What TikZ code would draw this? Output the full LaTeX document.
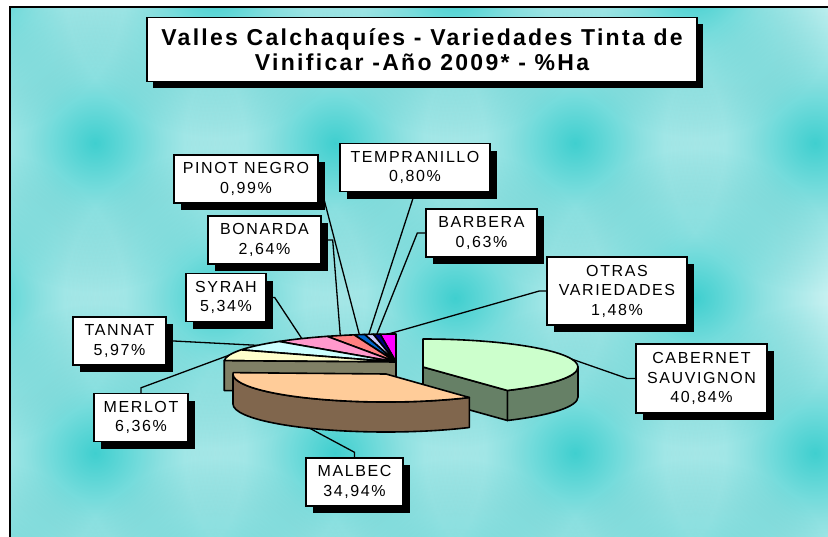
\documentclass[tikz,border=0pt]{standalone}
\usepackage{fontspec}
\setmainfont{Liberation Sans}
\newfontfamily\lblfont[LetterSpace=10]{Liberation Sans}
\newfontfamily\ttlfont[LetterSpace=10]{Liberation Sans}
\usetikzlibrary{shadows,calc}
\definecolor{spotD}{HTML}{4CD8D8}
\definecolor{spotM}{HTML}{A7EAEA}
\definecolor{spotL}{HTML}{D6F5F5}
\definecolor{tCab}{HTML}{CCFFCC}\definecolor{sCab}{HTML}{668066}
\definecolor{tMal}{HTML}{FFCC99}\definecolor{sMal}{HTML}{80664D}
\definecolor{tMer}{HTML}{FFFFCC}\definecolor{sMer}{HTML}{808066}
\definecolor{tTan}{HTML}{CCFFFF}\definecolor{tSyr}{HTML}{FF99CC}
\definecolor{tBon}{HTML}{FF8080}\definecolor{tPin}{HTML}{0066CC}
\definecolor{tTem}{HTML}{CCCCFF}\definecolor{tBar}{HTML}{000080}
\definecolor{tOtr}{HTML}{FF00FF}
\pgfdeclareradialshading{spot}{\pgfpoint{0bp}{0bp}}{color(0bp)=(spotD); color(11bp)=(spotM); color(25bp)=(white); color(50bp)=(white)}
\pgfdeclarelayer{back}
\pgfdeclarelayer{leaders}
\pgfsetlayers{back,leaders,main}
\tikzstyle{tag}   =[draw, fill=white, line width=1.4pt, align=center, inner sep=0pt,
                    font={\lblfont\fontsize{16}{19.5}\selectfont}, minimum height=48pt,
                    general shadow={fill=black, shadow xshift=7pt, shadow yshift=-7pt}]
\tikzstyle{leader}=[line width=1.3pt]
\tikzstyle{pie}   =[draw, line width=1.6pt, line join=round]
\tikzstyle{glow}  =[shading=spot, blend mode=multiply]

\begin{document}
\begin{tikzpicture}[x=1pt, y=1pt]
    \useasboundingbox (0,0) rectangle (828,-536);
    % background
    \begin{pgfonlayer}{back}
    \fill[spotL] (10,-7) rectangle (840,-550);
    \begin{scope}
        \clip (10,-7) rectangle (840,-550);
        \foreach \x in {95,335,575,815} \foreach \y in {-143,-453}
            \shade[glow] (\x,\y) circle (150);
        \foreach \x in {-25,215,455,695} \foreach \y in {12,-298,-608}
            \shade[glow] (\x,\y) circle (150);
    \end{scope}
    \draw[line width=2pt] (10,-7) rectangle (840,-550);
    \end{pgfonlayer}

    \node[draw, fill=white, line width=1.4pt, align=center, minimum width=550pt,
        minimum height=64pt, font={\ttlfont\bfseries\fontsize{23}{25}\selectfont},
        general shadow={fill=black, shadow xshift=6pt, shadow yshift=-6pt}]
        (title) at (422,-49.5) {Valles Calchaquíes - Variedades Tinta de\\Vinificar -Año 2009* - \%Ha};

    % pie
    \coordinate (cS) at (396,-362);
    \coordinate (cC) at (423,-367);
    \coordinate (cM) at (386,-374);
    \foreach \a/\b/\col in {90/95.3/tOtr, 95.3/97.6/tBar, 97.6/100.5/tTem, 100.5/104.1/tPin,
        104.1/113.6/tBon, 113.6/132.8/tSyr, 132.8/154.3/tTan, 154.3/177.2/tMer}
        \filldraw[pie, fill=\col] (cS) -- ++(\a:172 and 28)
            arc[start angle=\a, end angle=\b, x radius=172, y radius=28] -- cycle;
    \filldraw[pie, fill=sMer] (cS) -- ++(177.2:172 and 28) -- ++(0,-30) -- ([yshift=-30pt]cS) -- cycle;
    % cabernet
    \filldraw[pie, fill=sCab] ([shift={(0:155 and 28)}]cC)
        arc[start angle=0, end angle=-57, x radius=155, y radius=28] -- ++(0,-30)
        arc[start angle=-57, end angle=0, x radius=155, y radius=28] -- cycle;
    \filldraw[pie, fill=sCab] (cC) -- ++(-57:155 and 28) -- ++(0,-30) -- ([yshift=-30pt]cC) -- cycle;
    \filldraw[pie, fill=tCab] (cC) -- ++(90:155 and 28)
        arc[start angle=90, end angle=-57, x radius=155, y radius=28] -- cycle;
    % malbec
    \filldraw[pie, fill=sMal] ([shift={(-57:153 and 28)}]cM)
        arc[start angle=-57, end angle=-180, x radius=153, y radius=28] -- ++(0,-30)
        arc[start angle=-180, end angle=-57, x radius=153, y radius=28] -- cycle;
    \filldraw[pie, fill=tMal] (cM) -- ++(-57:153 and 28)
        arc[start angle=-57, end angle=-182.8, x radius=153, y radius=28] -- cycle;

    \coordinate (pOtr) at ([shift={(92.6:172 and 28)}]cS);
    \coordinate (pBar) at ([shift={(96.4:172 and 28)}]cS);
    \coordinate (pTem) at ([shift={(99.1:172 and 28)}]cS);
    \coordinate (pPin) at ([shift={(102.3:172 and 28)}]cS);
    \coordinate (pBon) at ([shift={(108.9:172 and 28)}]cS);
    \coordinate (pSyr) at ([shift={(123.2:172 and 28)}]cS);
    \coordinate (pTan) at ([shift={(143.5:172 and 28)}]cS);
    \coordinate (pMer) at ([shift={(165.7:172 and 28)}]cS);
    \coordinate (pCab) at ([shift={(16.5:155 and 28)}]cC);
    \coordinate (pMal) at ([shift={(-119.9:153 and 28)}, yshift=-30pt]cM);

    % labels
    \node[tag, minimum width=144pt] (lPin) at (246,-179) {PINOT NEGRO\\0,99\%};
    \node[tag, minimum width=150pt] (lTem) at (415,-167.5) {TEMPRANILLO\\0,80\%};
    \node[tag, minimum width=113pt] (lBon) at (264.5,-240) {BONARDA\\2,64\%};
    \node[tag, minimum width=111pt] (lBar) at (481.5,-233) {BARBERA\\0,63\%};
    \node[tag, minimum width=80pt] (lSyr) at (226,-297.5) {SYRAH\\5,34\%};
    \node[tag, minimum width=140pt, minimum height=68pt] (lOtr) at (617,-291) {OTRAS\\VARIEDADES\\1,48\%};
    \node[tag, minimum width=131pt, minimum height=69pt] (lCab) at (701.5,-378.5) {CABERNET\\SAUVIGNON\\40,84\%};
    \node[tag, minimum width=93pt] (lTan) at (119.5,-341) {TANNAT\\5,97\%};
    \node[tag, minimum width=94pt] (lMer) at (141,-417.5) {MERLOT\\6,36\%};
    \node[tag, minimum width=97pt] (lMal) at (354.5,-482) {MALBEC\\34,94\%};

    \begin{pgfonlayer}{leaders}
    \draw[leader] (lPin.east) -- (pPin);
    \draw[leader] (lTem.south) -- (pTem);
    \draw[leader] (lBon.east) -- ++(11,0) -- (pBon);
    \draw[leader] (lBar.west) -- ++(-8,0) -- (pBar);
    \draw[leader] (lOtr.west) -- ++(-7,0) -- (pOtr);
    \draw[leader] (lSyr.east) -- ++(8,0) -- (pSyr);
    \draw[leader] (lTan.east) -- ++(7,0) -- (pTan);
    \draw[leader] (lMer.north) -- ++(0,5) -- (pMer);
    \draw[leader] (lMal.north) -- ++(0,5) -- (pMal);
    \draw[leader] (lCab.west) -- ++(-8,0) -- (pCab);
    \end{pgfonlayer}
\end{tikzpicture}
\end{document}
